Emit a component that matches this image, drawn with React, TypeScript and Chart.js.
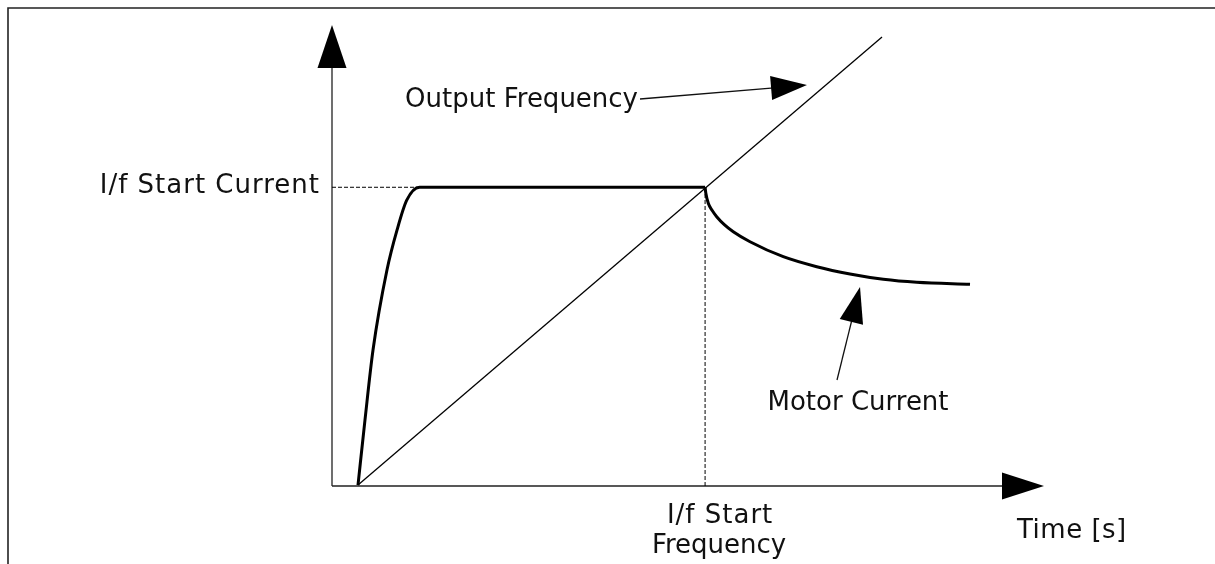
import React, { useEffect, useRef } from "react";
import { Chart, registerables } from "chart.js";

Chart.register(...registerables);

// Data (abstract units: time on x, magnitude on y)
const xRange = [0, 100];
const yRange = [0, 100];

const outputFrequencyX = [3.65, 77.25];
const outputFrequencyY = [0.2, 97.4];

const motorRiseX = [3.65, 4.63, 5.76, 7.72, 9.13, 10.5, 12.3, 52.4];
const motorRiseY = [0.2, 14.3, 29.5, 46.85, 55.5, 62.0, 64.8, 64.8];

const motorDecayX = [52.4, 52.5, 52.85, 53.4, 54.03, 55.1, 56.36, 58.71, 63.38, 68.08, 72.75, 77.43, 82.12, 89.61];
const motorDecayY = [64.8, 63.56, 61.32, 59.75, 58.42, 56.7, 55.16, 52.99, 49.74, 47.57, 45.99, 44.84, 44.19, 43.75];

const startCurrent = 64.8;
const startFrequency = 52.4;
const plateauStartX = 12.3;

// Annotation arrows in data units: [tailX, tailY, tipX, tipY]
const outputFreqArrow = [43.26, 83.95, 66.71, 86.98];
const motorCurrentArrow = [70.93, 22.99, 74.16, 43.17];

const labels = {
  startCurrent: "I/f Start Current",
  startFreq1: "I/f Start",
  startFreq2: "Frequency",
  time: "Time [s]",
  outputFreq: "Output Frequency",
  motorCurrent: "Motor Current",
};

const zip = (xs: number[], ys: number[]) => xs.map((x, i) => ({ x, y: ys[i] }));

const FONT = '26px "DejaVu Sans", Verdana, sans-serif';
const INK = "#111";

function arrowHead(ctx: CanvasRenderingContext2D, tx: number, ty: number, fx: number, fy: number, len: number, hw: number) {
  const dx = tx - fx, dy = ty - fy;
  const d = Math.hypot(dx, dy) || 1;
  const ux = dx / d, uy = dy / d;
  const bx = tx - ux * len, by = ty - uy * len;
  ctx.beginPath();
  ctx.moveTo(tx, ty);
  ctx.lineTo(bx - uy * hw, by + ux * hw);
  ctx.lineTo(bx + uy * hw, by - ux * hw);
  ctx.closePath();
  ctx.fill();
}

const diagramPlugin = {
  id: "diagram",
  beforeDatasetsDraw(chart: any) {
    const { ctx, scales } = chart;
    const xs = scales.x, ys = scales.y;
    const ox = xs.getPixelForValue(xRange[0]);
    const oy = ys.getPixelForValue(yRange[0]);
    const xt = xs.getPixelForValue(xRange[1]);
    const yt = ys.getPixelForValue(yRange[1]);
    ctx.save();
    ctx.strokeStyle = "#222";
    ctx.fillStyle = "#000";
    ctx.lineWidth = 1.3;
    ctx.beginPath();
    ctx.moveTo(ox, oy);
    ctx.lineTo(ox, yt + 40);
    ctx.moveTo(ox, oy);
    ctx.lineTo(xt - 40, oy);
    ctx.stroke();
    arrowHead(ctx, ox, yt, ox, oy, 43, 14.5);
    arrowHead(ctx, xt, oy, ox, oy, 42, 13.5);
    ctx.restore();
  },
  afterDraw(chart: any) {
    const { ctx, scales } = chart;
    const xs = scales.x, ys = scales.y;
    const px = (v: number) => xs.getPixelForValue(v);
    const py = (v: number) => ys.getPixelForValue(v);
    ctx.save();
    // frame
    ctx.strokeStyle = "#222";
    ctx.lineWidth = 1.6;
    ctx.beginPath();
    ctx.moveTo(8, chart.height + 2);
    ctx.lineTo(8, 8);
    ctx.lineTo(chart.width + 2, 8);
    ctx.stroke();

    // annotation arrows
    ctx.strokeStyle = INK;
    ctx.fillStyle = "#000";
    ctx.lineWidth = 1.3;
    for (const a of [outputFreqArrow, motorCurrentArrow]) {
      const tx = px(a[2]), ty = py(a[3]), fx = px(a[0]), fy = py(a[1]);
      const d = Math.hypot(tx - fx, ty - fy);
      const ux = (tx - fx) / d, uy = (ty - fy) / d;
      ctx.beginPath();
      ctx.moveTo(fx, fy);
      ctx.lineTo(tx - ux * 30, ty - uy * 30);
      ctx.stroke();
      arrowHead(ctx, tx, ty, fx, fy, 36, 12);
    }

    // texts
    ctx.font = FONT;
    ctx.fillStyle = INK;
    ctx.textBaseline = "alphabetic";
    ctx.textAlign = "right";
    ctx.letterSpacing = "1px";
    ctx.fillText(labels.startCurrent, px(xRange[0]) - 12, py(startCurrent) + 6);
    ctx.letterSpacing = "0px";
    ctx.fillText(labels.outputFreq, px(outputFreqArrow[0]) - 2, py(outputFreqArrow[1]) + 8);
    ctx.textAlign = "center";
    ctx.letterSpacing = "1px";
    ctx.fillText(labels.startFreq1, px(startFrequency) + 15, py(yRange[0]) + 37);
    ctx.letterSpacing = "0px";
    ctx.fillText(labels.startFreq2, px(startFrequency) + 14, py(yRange[0]) + 67);
    ctx.fillText(labels.motorCurrent, px(motorCurrentArrow[0]) + 21, py(motorCurrentArrow[1]) + 30);
    ctx.textAlign = "left";
    ctx.letterSpacing = "0.5px";
    ctx.fillText(labels.time, px(xRange[1]) - 27, py(yRange[0]) + 52);
    ctx.restore();
  },
};

export default function App() {
  const canvasRef = useRef<HTMLCanvasElement | null>(null);

  useEffect(() => {
    if (!canvasRef.current) return;
    const guide = {
      borderColor: "#000",
      borderWidth: 1,
      borderDash: [4, 2],
      pointRadius: 0,
      tension: 0,
    };
    const chart = new Chart(canvasRef.current, {
      type: "line",
      data: {
        datasets: [
          {
            label: "Start current guide",
            data: [
              { x: xRange[0], y: startCurrent },
              { x: plateauStartX, y: startCurrent },
            ],
            ...guide,
          },
          {
            label: "Start frequency guide",
            data: [
              { x: startFrequency, y: yRange[0] },
              { x: startFrequency, y: startCurrent },
            ],
            ...guide,
          },
          {
            label: "Output Frequency",
            data: zip(outputFrequencyX, outputFrequencyY),
            borderColor: "#000",
            borderWidth: 1.3,
            pointRadius: 0,
            tension: 0,
          },
          {
            label: "Motor Current",
            data: zip(motorRiseX, motorRiseY),
            borderColor: "#000",
            borderWidth: 3,
            pointRadius: 0,
            cubicInterpolationMode: "monotone",
          },
          {
            label: "Motor Current (decay)",
            data: zip(motorDecayX, motorDecayY),
            borderColor: "#000",
            borderWidth: 3,
            pointRadius: 0,
            cubicInterpolationMode: "monotone",
          },
        ],
      },
      options: {
        animation: false,
        responsive: true,
        maintainAspectRatio: false,
        layout: { padding: { left: 332, right: 171, top: 25, bottom: 78 } },
        plugins: { legend: { display: false }, tooltip: { enabled: false }, title: { display: false } },
        events: [],
        scales: {
          x: { type: "linear", min: xRange[0], max: xRange[1], display: false },
          y: { type: "linear", min: yRange[0], max: yRange[1], display: false },
        },
      },
      plugins: [diagramPlugin],
    } as any);
    return () => chart.destroy();
  }, []);

  return (
    <div style={{ position: "fixed", left: 0, top: 0, width: 1215, height: 564, background: "#fff" }}>
      <canvas ref={canvasRef} />
    </div>
  );
}
